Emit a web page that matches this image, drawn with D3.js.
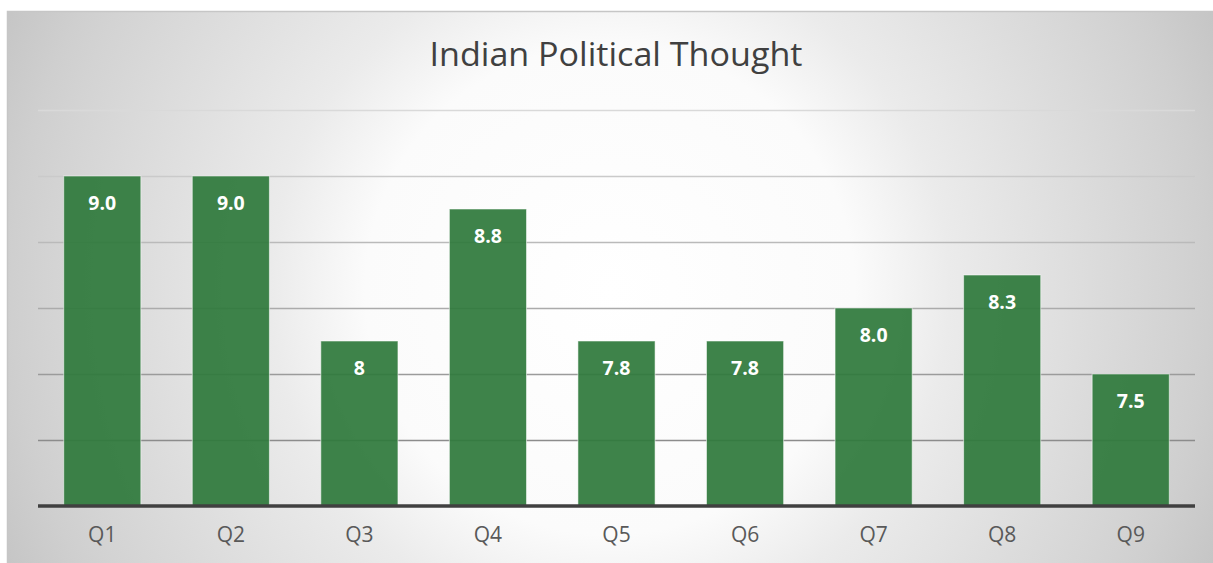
<!DOCTYPE html>
<html>
<head>
<meta charset="utf-8">
<script src="https://cdn.jsdelivr.net/npm/d3@7"></script>
<style>
  html, body { margin: 0; padding: 0; background: #ffffff; }
  svg { display: block; }
</style>
</head>
<body>
<svg id="chart" width="1213" height="563"></svg>
<script>
const categories = ["Q1", "Q2", "Q3", "Q4", "Q5", "Q6", "Q7", "Q8", "Q9"];
const values = [9.0, 9.0, 7.75, 8.75, 7.75, 7.75, 8.0, 8.25, 7.5];
const valueLabels = ["9.0", "9.0", "8", "8.8", "7.8", "7.8", "8.0", "8.3", "7.5"];
const gridValues = [7.0, 7.5, 8.0, 8.5, 9.0, 9.5];
const yDomain = [6.5, 9.5];
const title = "Indian Political Thought";

const W = 1213, H = 563;
const svg = d3.select("#chart");
const defs = svg.append("defs");

const grad = defs.append("radialGradient")
  .attr("id", "bg")
  .attr("gradientUnits", "userSpaceOnUse")
  .attr("cx", 610).attr("cy", 290).attr("r", 680);
[[0, "#ffffff"], [0.36, "#fbfbfb"], [0.5, "#ebebeb"], [0.83, "#d3d3d3"], [0.88, "#cfcfcf"], [1, "#c3c3c3"]]
  .forEach(([o, c]) => grad.append("stop").attr("offset", o).attr("stop-color", c));

// chart area background + border
svg.append("rect")
  .attr("x", 7.5).attr("y", 11.5)
  .attr("width", W + 10).attr("height", H + 10)
  .attr("fill", "url(#bg)")
  .attr("stroke", "#c6c6c6").attr("stroke-width", 1.5);

const plot = { left: 38, right: 1195, top: 110, bottom: 506 };

const x = d3.scaleBand()
  .domain(categories)
  .range([plot.left, plot.right])
  .paddingInner(0.4)
  .paddingOuter(0.2);

const y = d3.scaleLinear()
  .domain(yDomain)
  .range([plot.bottom, plot.top]);

const gridColor = d3.scaleLinear()
  .domain([yDomain[1], yDomain[0] + 0.5])
  .range(["#d9d9d9", "#8c8c8c"]);

// gridlines
svg.append("g")
  .selectAll("line")
  .data(gridValues)
  .join("line")
  .attr("x1", plot.left).attr("x2", plot.right)
  .attr("y1", d => Math.round(y(d)) + 0.5)
  .attr("y2", d => Math.round(y(d)) + 0.5)
  .attr("stroke", d => gridColor(d))
  .attr("stroke-width", 1.5);

// bars
svg.append("g")
  .selectAll("rect")
  .data(values)
  .join("rect")
  .attr("x", (d, i) => x(categories[i]))
  .attr("y", d => y(d))
  .attr("width", x.bandwidth())
  .attr("height", d => y(yDomain[0]) - y(d))
  .attr("fill", "#2f7a3c")
  .attr("fill-opacity", 0.93)
  .attr("stroke", "rgba(255,255,255,0.55)")
  .attr("stroke-width", 1);

// value labels
svg.append("g")
  .selectAll("text")
  .data(values)
  .join("text")
  .attr("x", (d, i) => x(categories[i]) + x.bandwidth() / 2)
  .attr("y", d => y(d) + 34)
  .attr("text-anchor", "middle")
  .attr("font-family", "'Open Sans', 'Noto Sans', sans-serif")
  .attr("font-weight", "bold")
  .attr("font-size", 19.5)
  .attr("fill", "#ffffff")
  .text((d, i) => valueLabels[i]);

// x axis
const xAxis = svg.append("g")
  .attr("transform", `translate(0,${plot.bottom})`)
  .call(d3.axisBottom(x).tickSize(0).tickPadding(21));
xAxis.select(".domain")
  .attr("stroke", "#404040")
  .attr("stroke-width", 3.5)
  .attr("d", `M${plot.left},0H${plot.right}`);
xAxis.selectAll("text")
  .attr("font-family", "'Open Sans', 'Noto Sans', sans-serif")
  .attr("font-size", 21)
  .attr("fill", "#595959");

// title
svg.append("text")
  .attr("x", 616)
  .attr("y", 66)
  .attr("text-anchor", "middle")
  .attr("font-family", "'Open Sans', 'Noto Sans', sans-serif")
  .attr("font-size", 33)
  .attr("fill", "#404040")
  .attr("textLength", 373)
  .attr("lengthAdjust", "spacingAndGlyphs")
  .text(title);
</script>
</body>
</html>
